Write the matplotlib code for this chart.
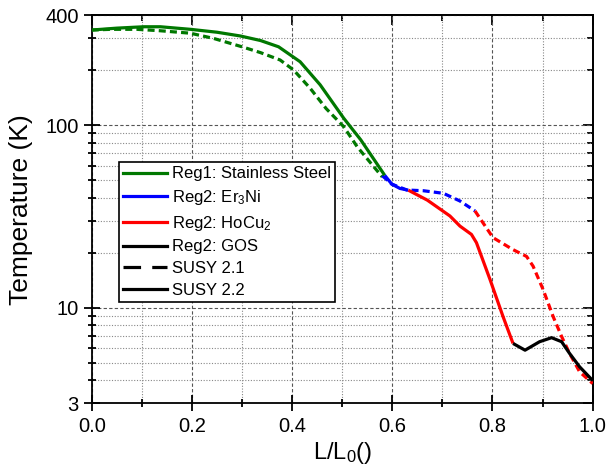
import matplotlib
matplotlib.use("Agg")
import matplotlib.pyplot as plt
from matplotlib.lines import Line2D
from matplotlib.ticker import FixedLocator, NullFormatter, FixedFormatter

plt.rcParams['font.family'] = ['Liberation Sans', 'DejaVu Sans']
plt.rcParams['mathtext.fontset'] = 'custom'
plt.rcParams['mathtext.rm'] = 'Liberation Sans'
plt.rcParams['mathtext.it'] = 'Liberation Sans:italic'
plt.rcParams['mathtext.bf'] = 'Liberation Sans:bold'

# SUSY 2.2 (solid)
ss22_x = [0.0, 0.05, 0.104, 0.137, 0.197, 0.25, 0.297, 0.337, 0.373, 0.416, 0.456, 0.503, 0.537, 0.585]
ss22_y = [331, 339, 345, 345, 334, 322, 307, 290, 268, 222, 166, 109, 83, 53]
er22_x = [0.585, 0.599, 0.615, 0.632]
er22_y = [53, 47.5, 45, 44]
ho22_x = [0.632, 0.67, 0.715, 0.735, 0.758, 0.768, 0.795, 0.821, 0.841]
ho22_y = [44, 38.8, 31.8, 28, 25.2, 22.7, 14.3, 8.96, 6.38]
gos22_x = [0.841, 0.865, 0.894, 0.918, 0.938, 0.954, 0.974, 1.0]
gos22_y = [6.38, 5.86, 6.52, 6.86, 6.52, 5.62, 4.75, 4.0]

# SUSY 2.1 (dashed)
ss21_x = [0.0, 0.038, 0.09, 0.137, 0.197, 0.243, 0.3, 0.337, 0.376, 0.403, 0.436, 0.468, 0.503, 0.53, 0.58]
ss21_y = [331, 334, 334, 328, 318, 298, 268, 249, 227, 200, 159, 123, 98, 76, 52]
er21_x = [0.58, 0.599, 0.629, 0.662, 0.702, 0.735, 0.765]
er21_y = [52.8, 47.5, 44.1, 43.7, 42.3, 38.4, 33.9]
ho21_x = [0.765, 0.801, 0.841, 0.868, 0.881, 0.901, 0.921, 0.938, 0.954, 0.974, 1.0]
ho21_y = [33.9, 24.2, 20.8, 19.1, 16.9, 12.6, 8.96, 6.96, 5.62, 4.46, 3.85]

x_major = [0.0, 0.2, 0.4, 0.6, 0.8, 1.0]
x_labels = ["0.0", "0.2", "0.4", "0.6", "0.8", "1.0"]
x_minor = [0.1, 0.3, 0.5, 0.7, 0.9]
y_major = [3, 10, 100, 400]
y_labels = ["3", "10", "100", "400"]
y_minor = [4, 5, 6, 7, 8, 9, 20, 30, 40, 50, 60, 70, 80, 90, 200, 300]

legend_labels = ["Reg1: Stainless Steel", "Reg2: Er$_\\mathregular{3}$Ni",
                 "Reg2: HoCu$_\\mathregular{2}$", "Reg2: GOS", "SUSY 2.1", "SUSY 2.2"]

GREEN = '#007800'
BLUE = '#0000FF'
RED = '#FF0000'
BLACK = '#000000'

fig = plt.figure(figsize=(6.09, 4.72), dpi=100)
ax = fig.add_axes([0.1506, 0.1455, 0.8226, 0.8227])

lw = 2.3
dash = (2.2, 1.3)
for xs, ys, c in [(ss21_x, ss21_y, GREEN), (er21_x, er21_y, BLUE), (ho21_x, ho21_y, RED)]:
    ax.plot(xs, ys, color=c, lw=lw, linestyle=(0, dash), zorder=3)
for xs, ys, c in [(ss22_x, ss22_y, GREEN), (er22_x, er22_y, BLUE), (ho22_x, ho22_y, RED), (gos22_x, gos22_y, BLACK)]:
    ax.plot(xs, ys, color=c, lw=lw, linestyle='-', zorder=4, solid_capstyle='butt')

ax.set_yscale('log')
ax.set_xlim(0, 1)
ax.set_ylim(3, 400)

ax.xaxis.set_major_locator(FixedLocator(x_major))
ax.xaxis.set_major_formatter(FixedFormatter(x_labels))
ax.xaxis.set_minor_locator(FixedLocator(x_minor))
ax.xaxis.set_minor_formatter(NullFormatter())
ax.yaxis.set_major_locator(FixedLocator(y_major))
ax.yaxis.set_major_formatter(FixedFormatter(y_labels))
ax.yaxis.set_minor_locator(FixedLocator(y_minor))
ax.yaxis.set_minor_formatter(NullFormatter())

ax.grid(True, which='major', color='#555555', linestyle=(0, (3, 2)), linewidth=0.8)
ax.grid(True, which='minor', color='#888888', linestyle=(0, (1, 1.5)), linewidth=0.8)
ax.set_axisbelow(True)

ax.tick_params(which='major', axis='both', direction='inout', length=11, width=1.3,
               labelsize=14.5, pad=4, top=False, right=False)
ax.tick_params(which='minor', axis='both', direction='inout', length=6, width=1.3,
               top=False, right=False)
ax2 = ax.secondary_xaxis('top')
ax2.xaxis.set_major_locator(FixedLocator(x_major))
ax2.xaxis.set_minor_locator(FixedLocator(x_minor))
ax2.tick_params(which='major', direction='in', length=7, width=1.3, labeltop=False)
ax2.tick_params(which='minor', direction='in', length=4, width=1.3)
ax2.xaxis.set_major_formatter(NullFormatter())
ax2.spines['top'].set_linewidth(1.3)
ay2 = ax.secondary_yaxis('right')
ay2.yaxis.set_major_locator(FixedLocator(y_major))
ay2.yaxis.set_minor_locator(FixedLocator(y_minor))
ay2.tick_params(which='major', direction='in', length=7, width=1.3, labelright=False)
ay2.tick_params(which='minor', direction='in', length=4, width=1.3)
ay2.yaxis.set_major_formatter(NullFormatter())
ay2.yaxis.set_minor_formatter(NullFormatter())
ay2.spines['right'].set_linewidth(1.3)

for s in ax.spines.values():
    s.set_linewidth(1.3)

ax.set_xlabel("L/L$_\\mathregular{0}$()", fontsize=17, labelpad=3)
ax.set_ylabel("Temperature (K)", fontsize=19, labelpad=9)

handles = [Line2D([], [], color=GREEN, lw=lw),
           Line2D([], [], color=BLUE, lw=lw),
           Line2D([], [], color=RED, lw=lw),
           Line2D([], [], color=BLACK, lw=lw),
           Line2D([], [], color=BLACK, lw=lw, linestyle=(0, (5.5, 3.5))),
           Line2D([], [], color=BLACK, lw=lw)]
leg = ax.legend(handles, legend_labels, loc='upper left', bbox_to_anchor=(0.0545, 0.621),
                borderaxespad=0, fontsize=12, handlelength=2.6, handletextpad=0.3,
                labelspacing=0.4, borderpad=0.25, fancybox=False, framealpha=1,
                edgecolor='black')
leg.get_frame().set_linewidth(1.2)
leg.set_zorder(10)

fig.savefig("out.png", dpi=100)
